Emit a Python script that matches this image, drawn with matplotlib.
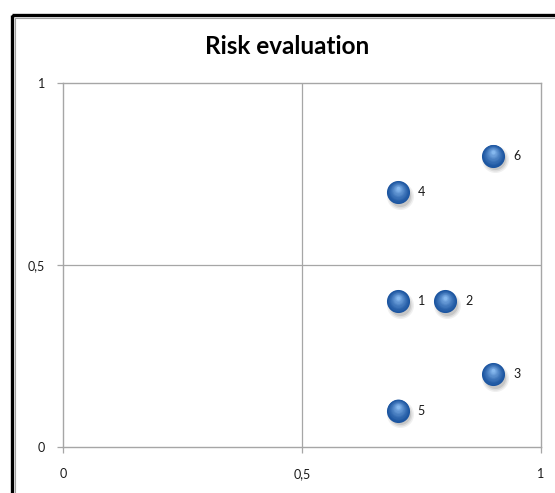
import matplotlib
matplotlib.use("Agg")
import matplotlib.pyplot as plt
import matplotlib.transforms as mtransforms
from matplotlib.patches import Rectangle
import numpy as np

# Risk items: probability (x) vs impact (y)
labels = ["1", "2", "3", "4", "5", "6"]
x_vals = [0.7, 0.8, 0.9, 0.7, 0.7, 0.9]
y_vals = [0.4, 0.4, 0.2, 0.7, 0.1, 0.8]
tick_vals = [0, 0.5, 1]
tick_labels = ["0", "0,5", "1"]

plt.rcParams["font.family"] = ["Lato", "DejaVu Sans"]

W, H = 555, 493
fig = plt.figure(figsize=(W / 100, H / 100), dpi=100)
fig.patch.set_facecolor("white")

# Chart frame: thick black outer edge with a thin gray inner line
fig.add_artist(Rectangle((11.5 / W, 1 - 14.5 / H), 1, -1,
                         transform=fig.transFigure, fill=False,
                         edgecolor="black", linewidth=2.4, clip_on=False))
fig.add_artist(Rectangle((14.5 / W, 1 - 17.5 / H), 1, -1,
                         transform=fig.transFigure, fill=False,
                         edgecolor="#a0a0a0", linewidth=0.8, clip_on=False))

left, right, top, bottom = 63, 541, 83, 447
ax = fig.add_axes([left / W, 1 - bottom / H, (right - left) / W, (bottom - top) / H])
ax.set_xlim(0, 1)
ax.set_ylim(0, 1)

for sp in ax.spines.values():
    sp.set_color("#a6a6a6")
    sp.set_linewidth(1.0)

ax.axvline(0.5, color="#a6a6a6", linewidth=0.9, zorder=1)
ax.axhline(0.5, color="#a6a6a6", linewidth=0.9, zorder=1)

ax.set_xticks(tick_vals)
ax.set_xticklabels(tick_labels)
ax.set_yticks(tick_vals)
ax.set_yticklabels(tick_labels)
ax.tick_params(direction="out", length=4, width=0.9, color="#a6a6a6",
               labelsize=9, labelcolor="#1a1a1a")
ax.tick_params(axis="x", pad=11)
ax.tick_params(axis="y", pad=9)

# Shadow under each sphere
shadow = mtransforms.offset_copy(ax.transData, fig=fig, x=1.5, y=-2.5, units="points")
for a, s in [(0.06, 380), (0.08, 300), (0.10, 230)]:
    ax.scatter(x_vals, y_vals, s=s, color="black", alpha=a, linewidths=0,
               transform=shadow, zorder=2)

# Sphere shading: stacked discs from dark rim to light highlight
dark = np.array([0x1c, 0x55, 0xa0]) / 255
light = np.array([0x86, 0xb8, 0xee]) / 255
n = 16
base_size = 270
for i in range(n):
    t = i / (n - 1)
    col = dark + (light - dark) * t ** 1.4
    size = base_size * (1 - t) ** 1.6 + 6
    off = mtransforms.offset_copy(ax.transData, fig=fig, x=0, y=2.8 * t,
                                  units="points")
    ax.scatter(x_vals, y_vals, s=size, color=col, linewidths=0,
               transform=off, zorder=3 + i * 0.01)

# Point labels
for xv, yv, lab in zip(x_vals, y_vals, labels):
    ax.annotate(lab, (xv, yv), xytext=(14.5, 0), textcoords="offset points",
                ha="left", va="center", fontsize=9, color="#1a1a1a", zorder=5)

fig.text(287 / W, 1 - 47 / H, "Risk evaluation", ha="center", va="center",
         fontsize=17.5, fontweight="bold", color="black")

fig.savefig("out.png", dpi=100, facecolor="white")
